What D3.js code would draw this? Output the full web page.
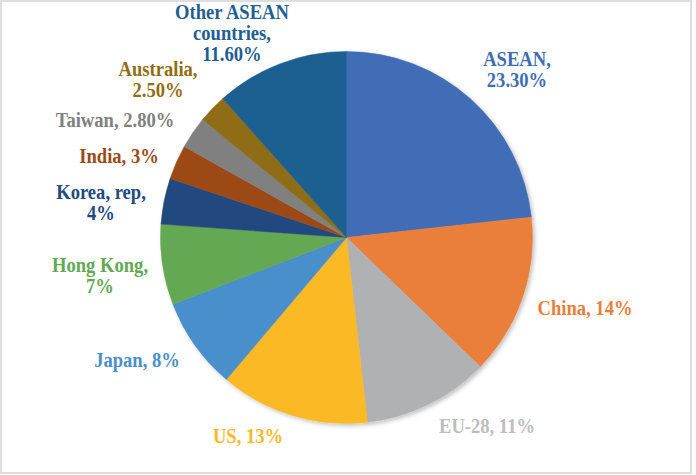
<!DOCTYPE html>
<html>
<head>
<meta charset="utf-8">
<script src="https://cdn.jsdelivr.net/npm/d3@7"></script>
<style>
  body { margin: 0; background: #fff; }
  svg { display: block; }
  .lbl { font-family: "Liberation Serif", "Times New Roman", serif; font-weight: bold; font-size: 20px; }
</style>
</head>
<body>
<svg width="696" height="475"></svg>
<script>
// data, clockwise from 12 o'clock
var names = ["ASEAN", "China", "EU-28", "US", "Japan", "Hong Kong", "Korea, rep",
             "India", "Taiwan", "Australia", "Other ASEAN countries"];
var shares = [23.3, 14, 11, 13, 8, 7, 4, 3, 2.8, 2.5, 11.6];
var shareText = ["23.30%", "14%", "11%", "13%", "8%", "7%", "4%", "3%", "2.80%", "2.50%", "11.60%"];
var labelLines = [
  ["ASEAN,", "23.30%"],
  ["China, 14%"],
  ["EU-28, 11%"],
  ["US, 13%"],
  ["Japan, 8%"],
  ["Hong Kong,", "7%"],
  ["Korea, rep,", "4%"],
  ["India, 3%"],
  ["Taiwan, 2.80%"],
  ["Australia,", "2.50%"],
  ["Other ASEAN", "countries,", "11.60%"]
];

var sliceColors = ["#3f6db5", "#ea7e3b", "#b0b1b2", "#fbb927", "#4a8fcb", "#65a853",
                   "#224a7f", "#9c4a19", "#808080", "#8f6d12", "#1f5e91"];
var textColors  = ["#3f6db5", "#ea7e3b", "#bdbdbd", "#fbb927", "#4a8fcb", "#65a853",
                   "#224a7f", "#9c4a19", "#808080", "#8f6d12", "#1f5e91"];

// label box centres (layout only)
var labelXY = [[517, 70], [585, 308.5], [487, 426.5], [248, 436.5], [137, 360.5],
               [100, 276], [101, 203], [119, 156.5], [115, 120.5], [158, 80], [232, 33.5]];

var W = 696, H = 475, cx = 346.5, cy = 237.5, R = 186, lineH = 21;

var svg = d3.select("svg");

// frame
svg.append("rect")
  .attr("x", 1).attr("y", 1).attr("width", 690).attr("height", 472)
  .attr("fill", "#fff").attr("stroke", "#dedede").attr("stroke-width", 2);

var defs = svg.append("defs");
var f = defs.append("filter").attr("id", "shadow")
  .attr("x", "-10%").attr("y", "-10%").attr("width", "120%").attr("height", "120%");
f.append("feDropShadow").attr("dx", 2).attr("dy", 2).attr("stdDeviation", 2)
  .attr("flood-color", "#000").attr("flood-opacity", 0.25);

var items = names.map(function(n, i){ return {name: n, value: shares[i], idx: i}; });

var pie = d3.pie().value(d => d.value).sort(null);
var arc = d3.arc().innerRadius(0).outerRadius(R);

var g = svg.append("g").attr("transform", "translate(" + cx + "," + cy + ")");

g.append("g").attr("filter", "url(#shadow)")
  .selectAll("path")
  .data(pie(items))
  .enter()
  .append("path")
  .attr("d", arc)
  .attr("fill", d => sliceColors[d.data.idx])
  .attr("stroke", d => sliceColors[d.data.idx])
  .attr("stroke-width", 0.5);

// labels (Times bold, a little condensed like the original)
var labels = svg.append("g")
  .selectAll("text")
  .data(items)
  .enter()
  .append("text")
  .attr("class", "lbl")
  .attr("text-anchor", "middle")
  .attr("fill", d => textColors[d.idx])
  .attr("transform", d => "translate(" + labelXY[d.idx][0] + "," + labelXY[d.idx][1] + ") scale(0.93,1)");

labels.each(function(d){
  var lines = labelLines[d.idx];
  var y0 = -(lines.length - 1) * lineH / 2 + 6.6;
  d3.select(this).selectAll("tspan")
    .data(lines)
    .enter()
    .append("tspan")
    .attr("x", 0)
    .attr("y", (t, j) => y0 + j * lineH)
    .text(t => t);
});
</script>
</body>
</html>
